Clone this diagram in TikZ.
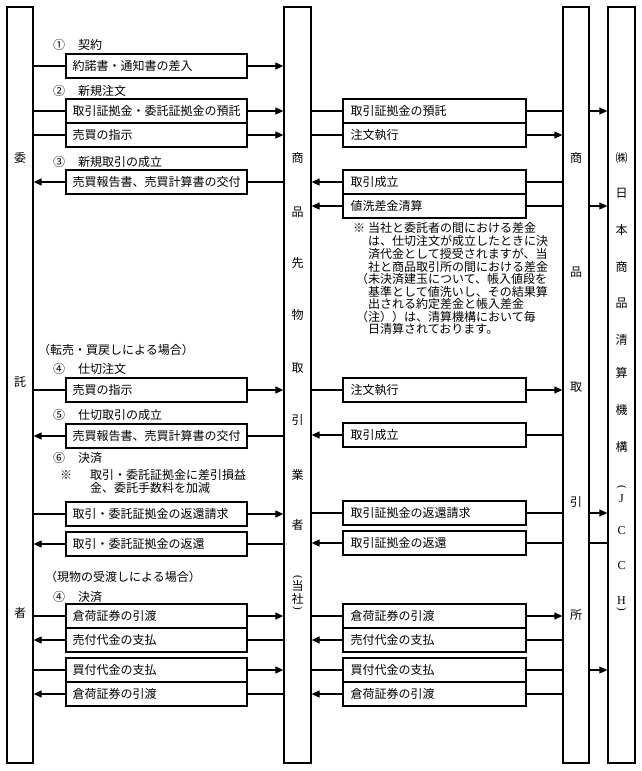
\documentclass[tikz,border=0pt]{standalone}
\usepackage{fontspec}
\setmainfont{Noto Sans CJK JP}
\newfontfamily\latinserif{Liberation Serif}
\usetikzlibrary{arrows.meta}
\newcommand\numlab[1]{\makebox[25pt][l]{#1}}
\begin{document}
\begin{tikzpicture}[x=1pt,y=-1pt,
  font=\fontsize{12}{14}\selectfont,
  col/.style={draw,line width=1.3pt,minimum width=26pt,minimum height=756pt,inner sep=0pt},
  lbox/.style={draw,line width=1.2pt,minimum height=24pt,text width=168pt,inner xsep=6.5pt,inner ysep=0pt,align=left,text height=10.5pt,text depth=1.5pt},
  rbox/.style={lbox,inner xsep=7.5pt},
  conn/.style={line width=1.2pt},
  arr/.style={-{Triangle[length=8pt,width=7pt]}},
  lab/.style={anchor=west,inner sep=0pt,text height=10.5pt,text depth=1.5pt},
  ctext/.style={inner sep=0pt,text height=10.5pt,text depth=1.5pt},
  vparen/.style={inner sep=0pt,font=\fontsize{11}{12}\selectfont\latinserif}
]
\useasboundingbox (0,0) rectangle (642,771);

% columns
\node[col] (L) at (20,385) {};
\node[col,minimum width=27pt] (M) at (297.5,385) {};
\node[col] (T) at (576,385) {};
\node[col,minimum width=27pt] (J) at (621.5,385) {};

% column texts
\node[ctext] (L1) at (20,158) {委};
\node[ctext] (L2) at (20,382) {託};
\node[ctext] (L3) at (20,613) {者};

\node[ctext] (M1) at (297.5,158) {商};
\node[ctext] (M2) at (297.5,212) {品};
\node[ctext] (M3) at (297.5,263) {先};
\node[ctext] (M4) at (297.5,315) {物};
\node[ctext] (M5) at (297.5,368) {取};
\node[ctext] (M6) at (297.5,420) {引};
\node[ctext] (M7) at (297.5,475) {業};
\node[ctext] (M8) at (297.5,525) {者};
\node[vparen,rotate=-90] (M9) at (297.5,577) {(};
\node[ctext] (M10) at (297.5,586) {当};
\node[ctext] (M11) at (297.5,599) {社};
\node[vparen,rotate=-90] (M12) at (297.5,608) {)};

\node[ctext] (T1) at (576,158) {商};
\node[ctext] (T2) at (576,272) {品};
\node[ctext] (T3) at (576,387) {取};
\node[ctext] (T4) at (576,502) {引};
\node[ctext] (T5) at (576,615) {所};

\node[ctext] (J1) at (621.5,158) {㈱};
\node[ctext] (J2) at (621.5,193) {日};
\node[ctext] (J3) at (621.5,230) {本};
\node[ctext] (J4) at (621.5,267) {商};
\node[ctext] (J5) at (621.5,303) {品};
\node[ctext] (J6) at (621.5,340) {清};
\node[ctext] (J7) at (621.5,373) {算};
\node[ctext] (J8) at (621.5,410) {機};
\node[ctext] (J9) at (621.5,447) {構};
\node[vparen,rotate=-90] (J10) at (621.5,487) {(};
\node[ctext] (J11) at (621.5,498) {\latinserif J};
\node[ctext] (J12) at (621.5,530) {\latinserif C};
\node[ctext] (J13) at (621.5,565) {\latinserif C};
\node[ctext] (J14) at (621.5,600) {\latinserif H};
\node[vparen,rotate=-90] (J15) at (621.5,609.5) {)};

% left boxes
\node[lbox] (a1) at (156.5,66) {約諾書・通知書の差入};
\node[lbox] (a2) at (156.5,111) {取引証拠金・委託証拠金の預託};
\node[lbox] (a3) at (156.5,135) {売買の指示};
\node[lbox] (a4) at (156.5,182) {売買報告書、売買計算書の交付};
\node[lbox] (a5) at (156.5,390) {売買の指示};
\node[lbox] (a6) at (156.5,436) {売買報告書、売買計算書の交付};
\node[lbox] (a7) at (156.5,514) {取引・委託証拠金の返還請求};
\node[lbox] (a8) at (156.5,544) {取引・委託証拠金の返還};
\node[lbox] (a9) at (156.5,616) {倉荷証券の引渡};
\node[lbox] (a10) at (156.5,640) {売付代金の支払};
\node[lbox] (a11) at (156.5,670) {買付代金の支払};
\node[lbox] (a12) at (156.5,694) {倉荷証券の引渡};

% right boxes
\node[rbox] (b2) at (434.5,111) {取引証拠金の預託};
\node[rbox] (b3) at (434.5,135) {注文執行};
\node[rbox] (b4) at (434.5,182) {取引成立};
\node[rbox] (b5) at (434.5,206) {値洗差金清算};
\node[rbox] (b6) at (434.5,390) {注文執行};
\node[rbox] (b7) at (434.5,435) {取引成立};
\node[rbox] (b8) at (434.5,513) {取引証拠金の返還請求};
\node[rbox] (b9) at (434.5,543) {取引証拠金の返還};
\node[rbox] (b10) at (434.5,616) {倉荷証券の引渡};
\node[rbox] (b11) at (434.5,640) {売付代金の支払};
\node[rbox] (b12) at (434.5,670) {買付代金の支払};
\node[rbox] (b13) at (434.5,694) {倉荷証券の引渡};

% left connectors
\foreach \n in {a1,a2,a3,a5,a7,a9,a11}{
  \draw[conn] (L.east |- \n.west) -- (\n.west);
  \draw[conn,arr] (\n.east) -- (M.west |- \n.east);
}
\foreach \n in {a4,a6,a8,a10,a12}{
  \draw[conn,arr] (\n.west) -- (L.east |- \n.west);
  \draw[conn] (M.west |- \n.east) -- (\n.east);
}

% right connectors
\foreach \n in {b2,b3,b6,b8,b10,b12}
  \draw[conn] (M.east |- \n.west) -- (\n.west);
\foreach \n in {b3,b6,b10}
  \draw[conn,arr] (\n.east) -- (T.west |- \n.east);
\foreach \n in {b2,b8,b12}
  \draw[conn] (\n.east) -- (T.west |- \n.east);
\foreach \n in {b4,b5,b7,b9,b11,b13}{
  \draw[conn,arr] (\n.west) -- (M.east |- \n.west);
  \draw[conn] (T.west |- \n.east) -- (\n.east);
}
\foreach \n in {b2,b5,b8,b12}
  \draw[conn,arr] (T.east |- \n.east) -- (J.west |- \n.east);
\draw[conn] (T.east |- b9.east) -- (J.west |- b9.east);

% step labels
\node[lab] (s1) at (53,45) {\numlab{①}契約};
\node[lab] (s2) at (53,91) {\numlab{②}新規注文};
\node[lab] (s3) at (53,162) {\numlab{③}新規取引の成立};
\node[lab] (s4) at (38,350) {（転売・買戻しによる場合）};
\node[lab] (s5) at (53,369) {\numlab{④}仕切注文};
\node[lab] (s6) at (53,415) {\numlab{⑤}仕切取引の成立};
\node[lab] (s7) at (53,458) {\numlab{⑥}決済};
\node[lab] (s8) at (60,475) {\makebox[30pt][l]{※}取引・委託証拠金に差引損益};
\node[lab] (s9) at (90,488) {金、委託手数料を加減};
\node[lab] (s10) at (45,577) {（現物の受渡しによる場合）};
\node[lab] (s11) at (53,597) {\numlab{④}決済};

% note
\node[lab] (n1) at (353,228) {※\hspace{3pt}当社と委託者の間における差金};
\node[lab] (n2) at (368,241) {は、仕切注文が成立したときに決};
\node[lab] (n3) at (368,254) {済代金として授受されますが、当};
\node[lab] (n4) at (368,267) {社と商品取引所の間における差金};
\node[lab] (n5) at (356,279) {（未決済建玉について、帳入値段を};
\node[lab] (n6) at (368,292) {基準として値洗いし、その結果算};
\node[lab] (n7) at (368,304) {出される約定差金と帳入差金};
\node[lab] (n8) at (356,317) {（注））は、清算機構において毎};
\node[lab] (n9) at (368,329) {日清算されております。};
\end{tikzpicture}
\end{document}
